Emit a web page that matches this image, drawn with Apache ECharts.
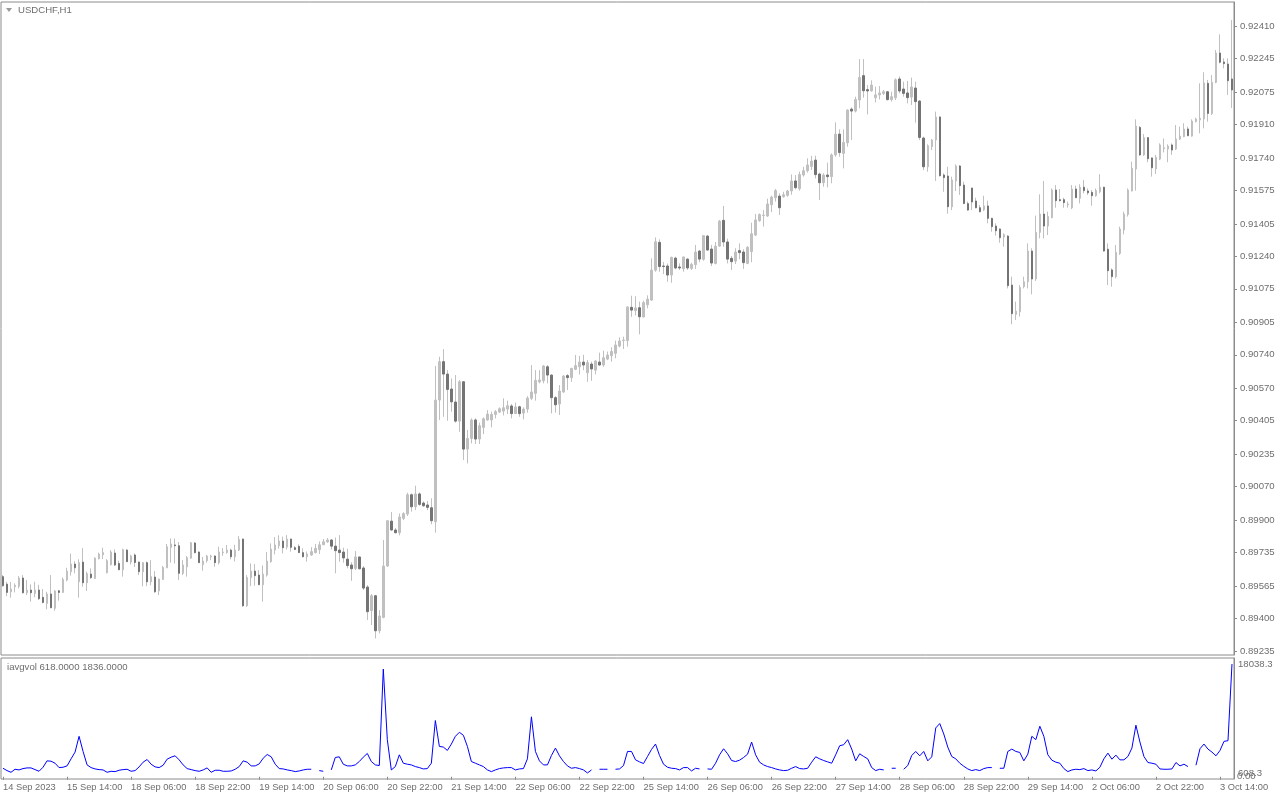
<!DOCTYPE html>
<html><head><meta charset="utf-8">
<script src="https://cdn.jsdelivr.net/npm/echarts@6/dist/echarts.min.js"></script>
<style>html,body{margin:0;padding:0;background:#fff}#c{width:1280px;height:800px}</style>
</head><body><div id="c"></div>
<script>
const symbolTitle = 'USDCHF,H1';
const indicatorTitle = 'iavgvol 618.0000 1836.0000';
const timeTicks = ['14 Sep 2023','15 Sep 14:00','18 Sep 06:00','18 Sep 22:00','19 Sep 14:00','20 Sep 06:00','20 Sep 22:00','21 Sep 14:00','22 Sep 06:00','22 Sep 22:00','25 Sep 14:00','26 Sep 06:00','26 Sep 22:00','27 Sep 14:00','28 Sep 06:00','28 Sep 22:00','29 Sep 14:00','2 Oct 06:00','2 Oct 22:00','3 Oct 14:00'];
const priceTicks = [0.92410,0.92245,0.92075,0.91910,0.91740,0.91575,0.91405,0.91240,0.91075,0.90905,0.90740,0.90570,0.90405,0.90235,0.90070,0.89900,0.89735,0.89565,0.89400,0.89235];
const volTicks = [18038.3, 608.3];
const volZeroTick = [0];

const openP = [
0.89613,0.89575,0.89536,0.89562,0.89564,0.89606,0.89531,0.89545,0.89528,0.89545,
0.89508,0.89477,0.89525,0.89452,0.89541,0.89533,0.89596,0.89638,0.89677,0.89587,
0.89687,0.89582,0.89626,0.89604,0.89704,0.89724,0.89633,0.89674,0.89733,0.89680,
0.89648,0.89748,0.89687,0.89723,0.89687,0.89638,0.89684,0.89587,0.89611,0.89541,
0.89599,0.89658,0.89762,0.89774,0.89770,0.89630,0.89663,0.89707,0.89784,0.89738,
0.89674,0.89694,0.89714,0.89718,0.89684,0.89735,0.89736,0.89748,0.89714,0.89748,
0.89804,0.89465,0.89608,0.89641,0.89621,0.89572,0.89621,0.89689,0.89748,0.89770,
0.89794,0.89763,0.89804,0.89760,0.89767,0.89735,0.89714,0.89723,0.89735,0.89750,
0.89775,0.89789,0.89799,0.89768,0.89748,0.89738,0.89702,0.89672,0.89655,0.89713,
0.89657,0.89560,0.89440,0.89516,0.89338,0.89406,0.89667,0.89895,0.89850,0.89836,
0.89909,0.89931,0.90029,0.89968,0.90033,0.89987,0.89977,0.89963,0.89892,0.90510,
0.90705,0.90642,0.90566,0.90500,0.90403,0.90603,0.90261,0.90315,0.90409,0.90312,
0.90371,0.90409,0.90409,0.90437,0.90449,0.90454,0.90464,0.90480,0.90442,0.90476,
0.90444,0.90464,0.90519,0.90544,0.90602,0.90608,0.90679,0.90637,0.90522,0.90490,
0.90551,0.90634,0.90624,0.90666,0.90679,0.90703,0.90649,0.90693,0.90662,0.90703,
0.90688,0.90718,0.90735,0.90747,0.90784,0.90812,0.90812,0.90981,0.90964,0.90979,
0.90932,0.90994,0.91018,0.91170,0.91311,0.91191,0.91191,0.91145,0.91231,0.91186,
0.91177,0.91226,0.91179,0.91198,0.91267,0.91225,0.91343,0.91277,0.91204,0.91292,
0.91423,0.91313,0.91230,0.91216,0.91269,0.91262,0.91204,0.91264,0.91348,0.91421,
0.91447,0.91445,0.91502,0.91538,0.91546,0.91543,0.91550,0.91572,0.91623,0.91584,
0.91653,0.91675,0.91697,0.91729,0.91658,0.91614,0.91653,0.91645,0.91755,0.91861,
0.91763,0.91817,0.91988,0.91978,0.92034,0.92158,0.92087,0.92081,0.92046,0.92060,
0.92068,0.92076,0.92036,0.92046,0.92141,0.92090,0.92070,0.92049,0.92095,0.92029,
0.91841,0.91695,0.91797,0.91831,0.91948,0.91653,0.91648,0.91492,0.91623,0.91699,
0.91602,0.91508,0.91587,0.91521,0.91487,0.91477,0.91496,0.91433,0.91394,0.91379,
0.91338,0.91343,0.91094,0.90945,0.90959,0.91086,0.91111,0.91267,0.91125,0.91362,
0.91455,0.91394,0.91437,0.91577,0.91528,0.91528,0.91502,0.91487,0.91582,0.91535,
0.91591,0.91572,0.91565,0.91548,0.91568,0.91591,0.91276,0.91171,0.91137,0.91255,
0.91374,0.91453,0.91572,0.91684,0.91895,0.91755,0.91843,0.91740,0.91684,0.91734,
0.91787,0.91785,0.91806,0.91785,0.91836,0.91848,0.91887,0.91851,0.91924,0.91933,
0.91938,0.92119,0.91966,0.92124,0.92273,0.92227,0.92217,0.92141];

const highP = [
0.89621,0.89587,0.89586,0.89579,0.89616,0.89621,0.89596,0.89574,0.89587,0.89572,
0.89550,0.89536,0.89621,0.89545,0.89545,0.89609,0.89658,0.89730,0.89692,0.89701,
0.89758,0.89638,0.89655,0.89711,0.89735,0.89760,0.89702,0.89748,0.89751,0.89694,
0.89755,0.89753,0.89724,0.89731,0.89690,0.89687,0.89690,0.89697,0.89641,0.89603,
0.89667,0.89779,0.89807,0.89807,0.89789,0.89697,0.89718,0.89789,0.89789,0.89741,
0.89713,0.89724,0.89724,0.89721,0.89765,0.89758,0.89774,0.89755,0.89775,0.89819,
0.89807,0.89621,0.89680,0.89677,0.89646,0.89670,0.89738,0.89782,0.89814,0.89823,
0.89816,0.89824,0.89806,0.89768,0.89777,0.89757,0.89741,0.89763,0.89779,0.89792,
0.89804,0.89809,0.89804,0.89812,0.89824,0.89760,0.89755,0.89686,0.89743,0.89714,
0.89667,0.89570,0.89525,0.89520,0.89443,0.89799,0.89900,0.89941,0.89860,0.89934,
0.89940,0.90039,0.90036,0.90075,0.90041,0.89995,0.89997,0.90011,0.90683,0.90730,
0.90769,0.90662,0.90620,0.90637,0.90612,0.90605,0.90358,0.90417,0.90417,0.90395,
0.90422,0.90459,0.90451,0.90459,0.90473,0.90519,0.90507,0.90490,0.90497,0.90481,
0.90473,0.90530,0.90688,0.90662,0.90662,0.90688,0.90688,0.90640,0.90530,0.90586,
0.90637,0.90642,0.90674,0.90739,0.90734,0.90740,0.90713,0.90705,0.90713,0.90751,
0.90761,0.90756,0.90778,0.90812,0.90829,0.90832,0.90986,0.91040,0.91038,0.91010,
0.91015,0.91042,0.91230,0.91336,0.91326,0.91211,0.91204,0.91238,0.91238,0.91204,
0.91238,0.91230,0.91208,0.91298,0.91272,0.91347,0.91348,0.91298,0.91313,0.91425,
0.91496,0.91330,0.91242,0.91281,0.91306,0.91276,0.91292,0.91411,0.91455,0.91458,
0.91475,0.91533,0.91548,0.91582,0.91560,0.91568,0.91577,0.91656,0.91653,0.91670,
0.91695,0.91738,0.91750,0.91751,0.91665,0.91662,0.91716,0.91763,0.91921,0.91885,
0.91885,0.91987,0.91997,0.92051,0.92242,0.92242,0.92110,0.92134,0.92102,0.92105,
0.92085,0.92080,0.92076,0.92144,0.92154,0.92127,0.92131,0.92148,0.92127,0.92032,
0.91848,0.91809,0.91836,0.91975,0.91951,0.91662,0.91695,0.91645,0.91707,0.91704,
0.91619,0.91518,0.91589,0.91538,0.91501,0.91548,0.91523,0.91436,0.91408,0.91382,
0.91357,0.91348,0.91137,0.91010,0.91094,0.91137,0.91306,0.91281,0.91447,0.91555,
0.91623,0.91467,0.91585,0.91602,0.91582,0.91538,0.91518,0.91602,0.91599,0.91606,
0.91628,0.91585,0.91577,0.91585,0.91657,0.91594,0.91306,0.91179,0.91298,0.91391,
0.91467,0.91585,0.91721,0.91936,0.91902,0.91861,0.91845,0.91742,0.91755,0.91814,
0.91839,0.91809,0.91814,0.91907,0.91899,0.91916,0.91899,0.91936,0.91944,0.92119,
0.92175,0.92136,0.92161,0.92288,0.92368,0.92246,0.92246,0.92441];

const lowP = [
0.89562,0.89514,0.89506,0.89533,0.89553,0.89528,0.89520,0.89486,0.89508,0.89494,
0.89477,0.89447,0.89453,0.89440,0.89491,0.89531,0.89589,0.89618,0.89630,0.89506,
0.89562,0.89540,0.89601,0.89602,0.89701,0.89702,0.89630,0.89670,0.89667,0.89646,
0.89613,0.89687,0.89675,0.89662,0.89621,0.89564,0.89565,0.89569,0.89531,0.89520,
0.89597,0.89656,0.89684,0.89680,0.89596,0.89621,0.89613,0.89704,0.89731,0.89682,
0.89643,0.89684,0.89697,0.89663,0.89675,0.89719,0.89729,0.89701,0.89690,0.89743,
0.89460,0.89460,0.89565,0.89567,0.89570,0.89486,0.89613,0.89684,0.89726,0.89755,
0.89731,0.89751,0.89740,0.89748,0.89733,0.89711,0.89689,0.89719,0.89731,0.89728,
0.89774,0.89785,0.89751,0.89630,0.89689,0.89684,0.89655,0.89592,0.89646,0.89650,
0.89545,0.89393,0.89367,0.89299,0.89325,0.89401,0.89662,0.89846,0.89833,0.89823,
0.89900,0.89921,0.89943,0.89951,0.89973,0.89968,0.89951,0.89879,0.89836,0.90409,
0.90425,0.90405,0.90451,0.90395,0.90349,0.90205,0.90188,0.90290,0.90287,0.90287,
0.90337,0.90405,0.90371,0.90417,0.90444,0.90432,0.90439,0.90417,0.90439,0.90425,
0.90412,0.90446,0.90510,0.90507,0.90595,0.90595,0.90595,0.90442,0.90446,0.90434,
0.90547,0.90561,0.90603,0.90662,0.90640,0.90662,0.90603,0.90608,0.90640,0.90685,
0.90679,0.90713,0.90705,0.90722,0.90778,0.90769,0.90781,0.90933,0.90940,0.90844,
0.90930,0.90976,0.91013,0.91162,0.91162,0.91150,0.91111,0.91106,0.91174,0.91171,
0.91162,0.91171,0.91171,0.91176,0.91210,0.91218,0.91270,0.91191,0.91199,0.91289,
0.91289,0.91204,0.91171,0.91201,0.91225,0.91176,0.91200,0.91210,0.91343,0.91416,
0.91391,0.91440,0.91464,0.91518,0.91450,0.91538,0.91543,0.91553,0.91580,0.91574,
0.91645,0.91665,0.91679,0.91636,0.91526,0.91594,0.91590,0.91611,0.91746,0.91746,
0.91687,0.91797,0.91831,0.91971,0.91992,0.92046,0.91961,0.92076,0.92022,0.92037,
0.92060,0.92032,0.92026,0.92034,0.92068,0.92051,0.92017,0.92009,0.91919,0.91831,
0.91678,0.91670,0.91780,0.91623,0.91645,0.91568,0.91457,0.91475,0.91572,0.91552,
0.91506,0.91472,0.91475,0.91484,0.91463,0.91470,0.91408,0.91365,0.91345,0.91309,
0.91289,0.91077,0.90895,0.90917,0.90934,0.91077,0.91077,0.91047,0.91115,0.91331,
0.91331,0.91348,0.91433,0.91487,0.91518,0.91487,0.91487,0.91480,0.91535,0.91509,
0.91560,0.91552,0.91497,0.91543,0.91560,0.91264,0.91094,0.91086,0.91128,0.91247,
0.91352,0.91442,0.91570,0.91574,0.91751,0.91750,0.91718,0.91645,0.91658,0.91729,
0.91768,0.91718,0.91755,0.91780,0.91831,0.91845,0.91850,0.91848,0.91921,0.91865,
0.91890,0.91924,0.91958,0.92119,0.92220,0.92195,0.92060,0.91993];

const closeP = [
0.89567,0.89533,0.89550,0.89569,0.89606,0.89531,0.89545,0.89531,0.89545,0.89501,
0.89482,0.89525,0.89455,0.89540,0.89533,0.89599,0.89641,0.89677,0.89658,0.89684,
0.89582,0.89628,0.89608,0.89707,0.89728,0.89735,0.89694,0.89738,0.89672,0.89648,
0.89750,0.89689,0.89718,0.89685,0.89638,0.89684,0.89587,0.89613,0.89536,0.89601,
0.89660,0.89765,0.89779,0.89770,0.89630,0.89672,0.89709,0.89785,0.89735,0.89684,
0.89692,0.89718,0.89718,0.89684,0.89738,0.89738,0.89748,0.89714,0.89748,0.89802,
0.89465,0.89609,0.89641,0.89618,0.89572,0.89626,0.89692,0.89753,0.89774,0.89794,
0.89760,0.89804,0.89762,0.89751,0.89735,0.89714,0.89728,0.89740,0.89757,0.89775,
0.89790,0.89799,0.89768,0.89745,0.89735,0.89708,0.89669,0.89653,0.89713,0.89653,
0.89555,0.89435,0.89516,0.89338,0.89413,0.89667,0.89897,0.89850,0.89836,0.89916,
0.89933,0.90029,0.89968,0.90033,0.89980,0.89973,0.89965,0.89897,0.90510,0.90705,
0.90642,0.90564,0.90501,0.90403,0.90603,0.90261,0.90315,0.90409,0.90312,0.90380,
0.90415,0.90439,0.90437,0.90451,0.90466,0.90471,0.90481,0.90441,0.90475,0.90441,
0.90464,0.90520,0.90551,0.90610,0.90612,0.90683,0.90637,0.90522,0.90486,0.90556,
0.90632,0.90624,0.90671,0.90685,0.90703,0.90688,0.90700,0.90668,0.90708,0.90688,
0.90725,0.90739,0.90757,0.90790,0.90810,0.90815,0.90983,0.90967,0.90978,0.90933,
0.91005,0.91023,0.91170,0.91314,0.91188,0.91188,0.91145,0.91235,0.91181,0.91181,
0.91237,0.91181,0.91199,0.91262,0.91226,0.91345,0.91272,0.91206,0.91292,0.91419,
0.91313,0.91226,0.91213,0.91262,0.91259,0.91208,0.91286,0.91355,0.91425,0.91452,
0.91450,0.91506,0.91541,0.91574,0.91487,0.91553,0.91572,0.91623,0.91589,0.91656,
0.91675,0.91704,0.91724,0.91655,0.91614,0.91653,0.91645,0.91755,0.91861,0.91767,
0.91819,0.91983,0.91978,0.92037,0.92149,0.92081,0.92080,0.92110,0.92060,0.92070,
0.92076,0.92036,0.92051,0.92137,0.92080,0.92068,0.92046,0.92100,0.92026,0.91844,
0.91695,0.91802,0.91831,0.91948,0.91650,0.91640,0.91492,0.91628,0.91699,0.91599,
0.91508,0.91475,0.91516,0.91487,0.91467,0.91496,0.91433,0.91391,0.91370,0.91335,
0.91350,0.91091,0.90949,0.90962,0.91082,0.91111,0.91267,0.91125,0.91362,0.91455,
0.91394,0.91442,0.91577,0.91523,0.91523,0.91513,0.91506,0.91582,0.91538,0.91591,
0.91574,0.91563,0.91548,0.91574,0.91591,0.91267,0.91167,0.91137,0.91260,0.91379,
0.91455,0.91577,0.91687,0.91902,0.91755,0.91843,0.91736,0.91690,0.91743,0.91806,
0.91792,0.91800,0.91780,0.91836,0.91851,0.91887,0.91853,0.91927,0.91938,0.91941,
0.92121,0.91966,0.92124,0.92273,0.92226,0.92219,0.92132,0.92085];

const avgVol = [
1360,984,715,1199,1091,1307,1414,1414,1145,876,
1522,2544,2490,2167,1468,1522,1737,2867,3943,6471,
4050,1898,1468,1253,1145,1091,715,876,822,1038,
1145,1199,876,984,1576,2329,2759,2006,1576,1468,
1845,2813,3136,3351,2705,1898,1307,1145,984,876,
1091,1414,715,1038,1038,876,876,930,1199,1629,
2544,2329,1737,1737,2060,2974,3566,3190,2006,1307,
1253,1091,984,822,930,1091,1199,1199,null,984,
876,null,1091,3082,3190,2006,1737,1737,1898,2436,
3136,3728,2436,1898,1791,17231,5933,1091,1629,3512,
2167,2006,1898,1629,1468,1253,1307,2167,9000,4857,
4750,4212,5234,6471,7117,6633,4857,2436,2167,1898,
1629,1091,822,1091,1307,1414,1468,1468,1091,1253,
1307,2867,9592,4050,2544,1898,1898,3405,4588,3351,
2436,1737,1360,1468,1307,1091,608.3,1091,null,1199,
1199,1199,null,1199,1253,1791,4050,4050,2705,2383,
2114,3243,4373,5234,3405,2006,1522,1360,1307,1091,
1468,1468,930,1360,1253,null,1253,1199,2167,3512,
4481,3674,2598,2436,2652,3082,3620,5557,3512,2329,
1898,1629,1468,1253,1091,984,1038,1360,1629,1307,
1253,1360,2329,3190,2867,2598,2383,2167,3512,4965,
5126,5933,4427,2544,3674,3243,2867,1468,984,1199,
1091,null,1360,1360,null,1199,1791,3405,4050,3351,
4050,2544,3190,7816,8516,6848,4750,3243,2867,2167,
1683,1253,984,1145,984,1307,1468,1468,null,1360,
1360,4050,4427,4050,3889,2544,3620,6471,5933,8085,
6471,3512,2652,2329,2167,1307,822,1091,1199,1145,
1307,984,1091,930,1522,2867,3781,2813,3459,2705,
2705,3243,4588,8247,5557,3243,2275,2167,2006,1253,
1199,1199,1253,2275,1737,2006,1629,null,1845,4481,
5234,4427,3943,3351,4212,5664,5772,18038.3];

const GRAY = '#8c8c8c', TXT = '#6e6e6e', UP = '#c0c0c0', DOWN = '#747474';
const FONT = 'Liberation Sans';
const barIdx = openP.map((_, i) => String(i));
const wickData = openP.map((o, i) => [o, closeP[i], lowP[i], highP[i]]);
const bodyData = openP.map((o, i) => [o, closeP[i], Math.min(o, closeP[i]), Math.max(o, closeP[i])]);
const isTick = (i) => i % 16 === 0;
const volMin = -360, volMax = 19006;

const chart = echarts.init(document.getElementById('c'), null, {renderer: 'canvas'});
chart.setOption({
  animation: false,
  backgroundColor: '#ffffff',
  textStyle: {fontFamily: FONT},
  grid: [
    {left: 1, top: 2, width: 1233, height: 653, show: true, borderColor: GRAY, borderWidth: 1, backgroundColor: '#fff'},
    {left: 1, top: 658, width: 1233, height: 121, show: true, borderColor: GRAY, borderWidth: 1, backgroundColor: '#fff'}
  ],
  xAxis: [
    {type: 'category', gridIndex: 0, data: barIdx, boundaryGap: true, show: false},
    {type: 'category', gridIndex: 1, data: barIdx, boundaryGap: true,
     axisLine: {show: false},
     axisTick: {show: true, alignWithLabel: true, interval: isTick, length: 3, lineStyle: {color: GRAY}},
     axisLabel: {interval: isTick, formatter: (v, i) => timeTicks[i / 16] || '', align: 'left',
                 color: TXT, fontSize: 9.3, fontFamily: FONT, margin: 4},
     splitLine: {show: false}}
  ],
  yAxis: [
    {type: 'value', gridIndex: 0, position: 'right', min: 0.89215, max: 0.92532,
     splitLine: {show: false},
     axisLine: {show: true, lineStyle: {color: GRAY}},
     axisTick: {show: true, customValues: priceTicks, length: 3, lineStyle: {color: GRAY}},
     axisLabel: {customValues: priceTicks, formatter: (v) => v.toFixed(5), color: TXT, fontSize: 9.6, fontFamily: FONT, margin: 6}},
    {type: 'value', gridIndex: 1, position: 'right', min: volMin, max: volMax,
     splitLine: {show: false},
     axisLine: {show: true, lineStyle: {color: GRAY}},
     axisTick: {show: false},
     axisLabel: {customValues: volTicks, hideOverlap: false, formatter: (v) => v.toFixed(1), color: TXT, fontSize: 9.6, fontFamily: FONT, margin: 4}},
    {type: 'value', gridIndex: 1, position: 'right', min: volMin, max: volMax,
     splitLine: {show: false}, axisLine: {show: false}, axisTick: {show: false},
     axisLabel: {customValues: volZeroTick, hideOverlap: false, formatter: () => '0.00', color: TXT, fontSize: 9.6, fontFamily: FONT, margin: 3}}
  ],
  series: [
    {type: 'candlestick', name: 'wicks', xAxisIndex: 0, yAxisIndex: 0, data: wickData, barWidth: 1, silent: true,
     itemStyle: {color: UP, color0: UP, borderColor: UP, borderColor0: UP, borderWidth: 1}},
    {type: 'candlestick', name: 'bodies', xAxisIndex: 0, yAxisIndex: 0, data: bodyData, barWidth: 2, silent: true,
     itemStyle: {color: UP, color0: DOWN, borderColor: UP, borderColor0: DOWN, borderWidth: 1}},
    {type: 'line', name: 'iavgvol', xAxisIndex: 1, yAxisIndex: 1, data: avgVol, showSymbol: false, symbol: 'none',
     connectNulls: false, silent: true, lineStyle: {color: '#0000ff', width: 1}}
  ],
  graphic: [
    {type: 'polygon', shape: {points: [[6, 8], [12, 8], [9, 12]]}, style: {fill: '#9a9a9a'}, silent: true},
    {type: 'text', x: 18, y: 5, style: {text: symbolTitle, font: '9.6px "Liberation Sans"', fill: TXT}, silent: true},
    {type: 'text', x: 7, y: 662, style: {text: indicatorTitle, font: '9.6px "Liberation Sans"', fill: TXT}, silent: true}
  ]
});
</script>
</body></html>
